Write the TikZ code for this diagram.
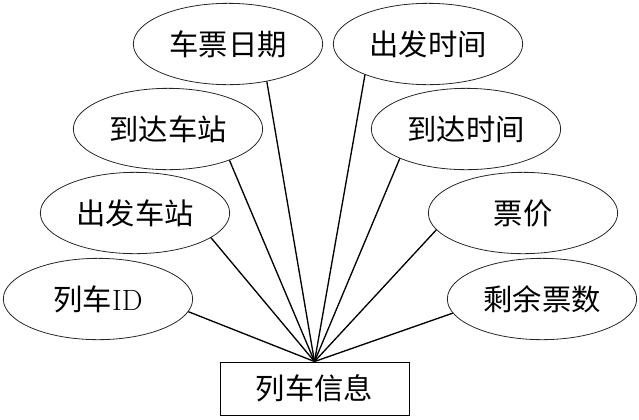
\documentclass[tikz,border=0pt]{standalone}
\usepackage{fontspec}
\newfontfamily\cjk{Noto Sans CJK SC}
\usetikzlibrary{shapes.geometric}
\tikzset{
  attr/.style={ellipse, draw=black!85, line width=0.6pt, minimum width=142pt, minimum height=61pt, inner sep=0pt, font=\cjk\fontsize{22}{25}\selectfont},
  entity/.style={rectangle, draw, line width=0.7pt, minimum width=141.75pt, minimum height=39.75pt, inner sep=0pt, font=\cjk\fontsize{22}{25}\selectfont},
  link/.style={line width=1pt}
}
\begin{document}
\begin{tikzpicture}[x=0.75pt, y=-0.75pt]
			\useasboundingbox (0,0) rectangle (639,419);

			% 实体
			\node[entity] (info) at (314.5,388.5) {列车信息};

			% 属性
			\node[attr] (date) at (228,44) {车票日期};
			\node[attr] (dtime) at (428,44) {出发时间};
			\node[attr] (astation) at (168,129) {到达车站};
			\node[attr] (atime) at (466,129) {到达时间};
			\node[attr] (dstation) at (135,213) {出发车站};
			\node[attr] (price) at (523,213) {票价};
			\node[attr] (trainid) at (98,299) {列车{\rmfamily ID}};
			\node[attr] (remain) at (542,299) {剩余票数};

			% 连线
			\draw[link] (info.north) -- (date.-44);
			\draw[link] (info.north) -- (dtime.-154);
			\draw[link] (info.north) -- (astation.-27);
			\draw[link] (info.north) -- (atime.204);
			\draw[link] (info.north) -- (dstation.-18);
			\draw[link] (info.north) -- (price.191);
			\draw[link] (info.north) -- (trainid.-8);
			\draw[link] (info.north) -- (remain.189);
		\end{tikzpicture}
\end{document}
